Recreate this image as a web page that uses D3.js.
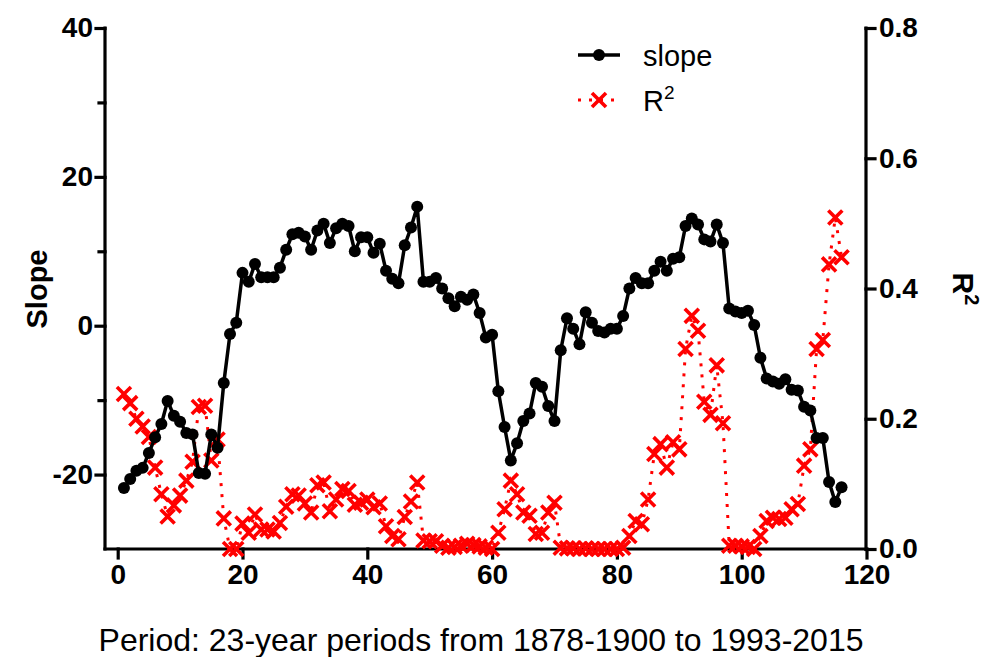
<!DOCTYPE html>
<html>

<head>
	<meta charset='utf-8' />
	<title></title>
	<script src="https://d3js.org/d3.v7.min.js"></script>
	<style>
		body {
			margin: 0;
			background: white;
		}

		svg {
			display: block;
			font-family: "Liberation Sans", Arial, sans-serif;
		}

		.tick text {
			font-weight: bold;
			font-size: 28px;
			fill: black;
		}
	</style>
</head>

<body>
	<svg id="chart" width="1005" height="657"></svg>

	<script>
		// period index 1..116
		var periods = d3.range(1, 117);

		var slope = [
			-21.8, -20.6, -19.5, -19.1, -17.1, -15.0, -13.2, -10.1, -12.1, -12.9,
			-14.4, -14.6, -19.8, -19.9, -14.6, -16.4, -7.7, -1.1, 0.4, 7.1,
			5.9, 8.3, 6.5, 6.5, 6.5, 7.8, 10.2, 12.3, 12.5, 12.0,
			10.2, 12.8, 13.7, 11.1, 13.1, 13.7, 13.4, 10.0, 11.9, 11.9,
			9.8, 11.0, 7.4, 6.3, 5.7, 10.8, 13.2, 16.0, 5.9, 5.9,
			6.4, 5.0, 3.7, 2.6, 3.9, 3.5, 4.2, 1.7, -1.6, -1.2,
			-8.8, -13.6, -18.1, -15.8, -12.8, -11.8, -7.7, -8.2, -10.8, -12.8,
			-3.3, 1.0, -0.4, -2.5, 1.8, 0.4, -0.7, -0.9, -0.4, -0.4,
			1.3, 5.0, 6.4, 5.7, 5.7, 7.4, 8.6, 7.4, 9.0, 9.2,
			13.4, 14.4, 13.6, 11.6, 11.3, 13.6, 11.1, 2.3, 1.9, 1.7,
			2.0, 0.1, -4.3, -7.1, -7.5, -7.8, -7.2, -8.6, -8.7, -10.9,
			-11.4, -15.1, -15.1, -21.0, -23.7, -21.7
		];

		var r2 = [
			0.238, 0.224, 0.200, 0.188, 0.172, 0.125, 0.084, 0.050, 0.067, 0.082,
			0.105, 0.134, 0.218, 0.220, 0.136, 0.168, 0.047, 0.000, 0.000, 0.039,
			0.025, 0.053, 0.030, 0.030, 0.027, 0.040, 0.065, 0.084, 0.082, 0.070,
			0.056, 0.098, 0.102, 0.058, 0.076, 0.092, 0.089, 0.068, 0.071, 0.076,
			0.064, 0.070, 0.035, 0.020, 0.015, 0.049, 0.073, 0.102, 0.013, 0.012,
			0.012, 0.005, 0.002, 0.003, 0.005, 0.008, 0.006, 0.004, 0.002, 0.000,
			0.025, 0.061, 0.105, 0.084, 0.056, 0.051, 0.023, 0.025, 0.056, 0.071,
			0.002, 0.001, 0.001, 0.000, 0.001, 0.000, 0.000, 0.000, 0.000, 0.000,
			0.002, 0.020, 0.043, 0.038, 0.076, 0.146, 0.161, 0.125, 0.164, 0.153,
			0.307, 0.358, 0.335, 0.226, 0.206, 0.282, 0.193, 0.005, 0.005, 0.004,
			0.003, 0.000, 0.020, 0.043, 0.048, 0.046, 0.048, 0.061, 0.069, 0.128,
			0.153, 0.307, 0.321, 0.437, 0.509, 0.448
		];

		var xTicks = [0, 20, 40, 60, 80, 100, 120];
		var slopeTicks = [-20, 0, 20, 40];
		var slopeMinor = [-10, 10, 30];
		var r2Ticks = [0, 0.2, 0.4, 0.6, 0.8];

		var data = periods.map((p, i) => ({ p: p, slope: slope[i], r2: r2[i] }));

		var svg = d3.select("#chart");
		var plotLeft = 105, plotRight = 866, plotTop = 28, plotBottom = 549;

		var x = d3.scaleLinear().domain([0, 120]).range([117.7, 866.5]);
		var y = d3.scaleLinear().domain([-30, 40]).range([plotBottom, plotTop]);
		var y2 = d3.scaleLinear().domain([0, 0.8]).range([plotBottom, plotTop]);

		// axes
		var xAxis = svg.append("g")
			.attr("transform", `translate(0,${plotBottom})`)
			.call(d3.axisBottom(x).tickValues(xTicks).tickSize(9).tickPadding(6).tickSizeOuter(0));
		xAxis.select(".domain").attr("d", `M${plotLeft},0H${plotRight}`);

		svg.append("g")
			.attr("transform", `translate(${plotLeft},0)`)
			.call(d3.axisLeft(y).tickValues(slopeMinor).tickSize(6).tickFormat("").tickSizeOuter(0))
			.call(g => g.select(".domain").remove());

		svg.append("g")
			.attr("transform", `translate(${plotLeft},0)`)
			.call(d3.axisLeft(y).tickValues(slopeTicks).tickSize(9).tickPadding(3).tickSizeOuter(0).tickFormat(d => String(d)))
			.select(".domain").attr("d", `M0,${plotBottom}V${plotTop}`);

		svg.append("g")
			.attr("transform", `translate(${plotRight},0)`)
			.call(d3.axisRight(y2).tickValues(r2Ticks).tickSize(9).tickPadding(4).tickFormat(d => d.toFixed(1)).tickSizeOuter(0))
			.select(".domain").attr("d", `M0,${plotBottom}V${plotTop}`);

		svg.selectAll(".domain, .tick line")
			.attr("stroke", "black")
			.attr("stroke-width", 3.2)
			.attr("stroke-linecap", "square");

		// R2 series (drawn below slope)
		var r2Line = d3.line().x(d => x(d.p)).y(d => y2(d.r2));

		svg.append("path")
			.datum(data)
			.attr("fill", "none")
			.attr("stroke", "#ff0000")
			.attr("stroke-width", 3)
			.attr("stroke-dasharray", "3,8")
			.attr("d", r2Line);

		var cross = d3.symbol().type(d3.symbolTimes).size(130);

		svg.append("g").selectAll("path")
			.data(data)
			.enter().append("path")
			.attr("transform", d => `translate(${x(d.p)},${y2(d.r2)})`)
			.attr("d", cross)
			.attr("fill", "none")
			.attr("stroke", "#ff0000")
			.attr("stroke-width", 3.6);

		// slope series
		var slopeLine = d3.line().x(d => x(d.p)).y(d => y(d.slope));

		svg.append("path")
			.datum(data)
			.attr("fill", "none")
			.attr("stroke", "black")
			.attr("stroke-width", 3.5)
			.attr("stroke-linejoin", "round")
			.attr("d", slopeLine);

		svg.append("g").selectAll("circle")
			.data(data)
			.enter().append("circle")
			.attr("cx", d => x(d.p))
			.attr("cy", d => y(d.slope))
			.attr("r", 6)
			.attr("fill", "black");

		// axis titles
		svg.append("text")
			.attr("transform", "translate(47,289) rotate(-90)")
			.attr("text-anchor", "middle")
			.style("font-weight", "bold")
			.style("font-size", "29px")
			.text("Slope");

		var r2Title = svg.append("text")
			.attr("transform", "translate(953,289) rotate(90)")
			.attr("text-anchor", "middle")
			.style("font-weight", "bold")
			.style("font-size", "30px");
		r2Title.append("tspan").text("R");
		r2Title.append("tspan").attr("dy", -12).style("font-size", "20px").text("2");

		svg.append("text")
			.attr("x", 481)
			.attr("y", 651)
			.attr("text-anchor", "middle")
			.style("font-size", "32px")
			.text("Period: 23-year periods from 1878-1900 to 1993-2015");

		// legend
		var legend = svg.append("g").attr("transform", "translate(578,0)");

		legend.append("line")
			.attr("x1", 0).attr("x2", 42).attr("y1", 55).attr("y2", 55)
			.attr("stroke", "black").attr("stroke-width", 3.5);
		legend.append("circle").attr("cx", 21).attr("cy", 55).attr("r", 6).attr("fill", "black");
		legend.append("text").attr("x", 65).attr("y", 66).style("font-size", "29px").text("slope");

		legend.append("line")
			.attr("x1", 0).attr("x2", 42).attr("y1", 100).attr("y2", 100)
			.attr("stroke", "#ff0000").attr("stroke-width", 3).attr("stroke-dasharray", "3,8");
		legend.append("path")
			.attr("transform", "translate(21,100)")
			.attr("d", cross)
			.attr("fill", "none").attr("stroke", "#ff0000").attr("stroke-width", 3.6);
		var legR = legend.append("text").attr("x", 65).attr("y", 111).style("font-size", "29px");
		legR.append("tspan").text("R");
		legR.append("tspan").attr("dy", -12).style("font-size", "19px").text("2");
	</script>
</body>

</html>
